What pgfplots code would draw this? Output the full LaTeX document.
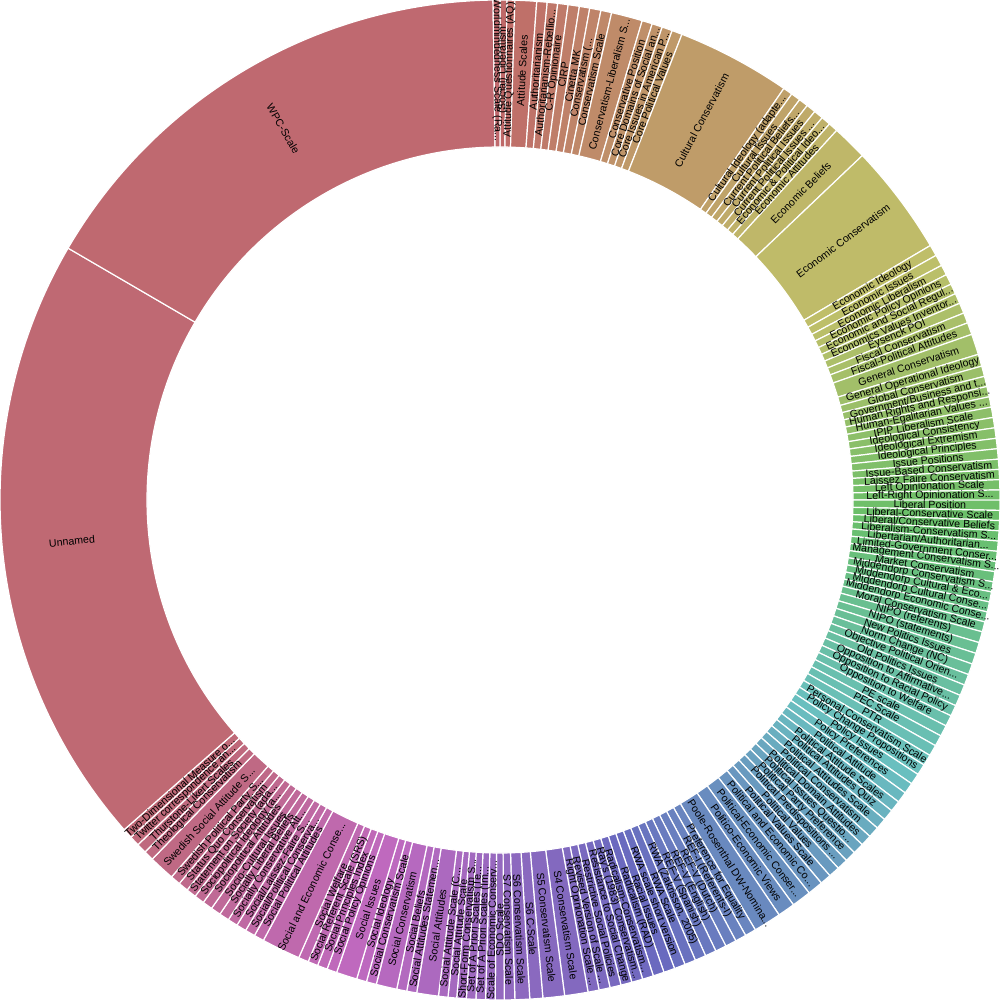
\documentclass[border=0pt]{standalone}
\usepackage{fontspec}
\setmainfont{Liberation Sans}
\usepackage[rgb]{xcolor}
\usepackage{pgfplots}
\usepackage{pgfplotstable}
\pgfplotsset{compat=1.18}

% slices in clockwise order from 12 o'clock
\pgfplotstableread[col sep=semicolon]{
label;value
(Social) Liberalism;0.8
Attitude Questionnaires (AQ);0.9
Attitude Scales;2.5
Authoritarianism;1.2
Authoritarianism-Rebellio...;1.2
C-R Opinionaire;1.2
CIRP;1.3
Cinetta MK;1.2
Conservatism (...;1.3
Conservatism Scale;1.25
Conservatism-Liberalism S...;3.6
Conservative Position;1.2
Core Domains of Social an...;1.2
Core Issues in American P...;1.2
Core Political Values;1.2
Cultural Conservatism;13.2
Cultural Ideology (adapte...;1.1
Cultural Issues;1.1
Current Political Beliefs...;1.1
Current Political Issues;1.1
Current Political Issues ...;1.1
Economic \& Political Ideo...;1.1
Economic Attitudes;1.1
Economic Beliefs;4.1
Economic Conservatism;12.9
Economic Ideology;1.3
Economic Issues;1.3
Economic Liberalism;1.2
Economic Policy Opinions;1.2
Economic and Social Regul...;1.2
Economics Values Inventor...;1.2
Eysenck POI;1.2
Fiscal Conservatism;1.2
Fiscal-Political Attitudes;1.4
General Conservatism;2.4
General Operational Ideology;1.4
Global Conservatism;1.2
Government/Business and t...;1.2
Human Rights and Responsi...;1.2
Human-Egalitarian Values ...;1.2
IPIP Liberalism Scale;1.2
Ideological Consistency;1.2
Ideological Extremism;1.2
Ideological Principles;1.2
Issue Positions;1.2
Issue-Based Conservatism;1.17
Laissez Faire Conservatism;1.17
Left Opinionation Scale;1.17
Left-Right Opinionation S...;1.17
Liberal Position;1.17
Liberal-Conservative Scale;1.17
Liberal/Conservative Beliefs;1.17
Liberalism-Conservatism S...;1.17
Libertarian/Authoritarian...;1.17
Limited-Government Conser...;1.17
Management Conservatism S...;1.17
Market Conservatism;1.17
Middendorp Conservatism S...;1.17
Middendorp Cultural \& Eco...;1.17
Middendorp Cultural Conse...;1.17
Middendorp Economic Conse...;1.17
Moral Conservatism Scale;1.17
NIPO (referents);1.28
NIPO (statements);1.28
New Politics Issues;1.28
Norm Change (NC);1.28
Objective Political Orien...;1.28
Old Politics Issues;1.28
Opposition to Affirmative...;1.28
Opposition to Racial Policy;1.28
Opposition to Welfare;1.28
PE scale;1.28
PEC Scale;1.28
PTR;1.28
Personal Conservatism Scale;1.28
Policy Change Propositions;1.28
Policy Issues;1.28
Policy Preferences;1.28
Political Attitude;1.28
Political Attitude Scales;1.28
Political Attitudes Quiz;1.28
Political Attitudes Scale;1.28
Political Conservatism;1.28
Political Domain Attitudes;1.28
Political Issues Questio...;1.28
Political Party Preference;1.28
Political Predispositions ...;1.28
Political Values;1.28
Political Values Scale;1.28
Political and Economic Co...;1.8
Political-Economic Conser...;2.25
Politico-Economic Views;2.0
Poole-Rosenthal DW-Nomina...;3.2
Preference for Equality;1.28
REF-I (Referents-I);1.28
REF-V (Dutch);1.28
REF-V (English);1.28
REF-V (Spanish);1.28
RWA (Zakrisson, 2005);1.28
RWA Scale;1.28
RWA scale short version;1.28
Racial Issues;1.28
Radicalism (RAD);1.28
Radicalism-Conservatism...;1.28
Ray's (1983) Conservatism...;1.28
Resistance to Social Change;1.28
Restrictive Social Policies;1.28
Revised Version of Scale ...;1.28
Right Opinionation Scale ...;1.28
S4 Conservatism Scale;2.7
S5 Conservatism Scale;2.5
S6 C-Scale;1.5
S6 Conservatism Scale;1.7
S7 Conservatism Scale;1.2
SDO Scale;1.05
Scale of Economic Conserv...;1.1
Set of A Priori Scales (Im...;1.1
Set of A Priori Scales (Te...;1.1
Short-Form Conservatism S...;1.1
Social Attitude Scale;1.0
Social Attitude Scale (C...;1.1
Social Attitudes;2.5
Social Attitudes Statemen...;1.16
Social Beliefs;1.16
Social Conservatism;2.4
Social Conservatism Scale;1.16
Social Ideology;1.16
Social Issues;2.4
Social Policy Opinions;1.16
Social Principles Index;1.16
Social Referent Scale (SRS);1.16
Social Welfare;1.16
Social and Economic Conse...;4.5
Social Political Attitudes;1.16
Social/Political Conserva...;1.16
Social/Laissez-Faire S...;1.16
Socially Conservative Att...;1.16
Socially Liberal Beliefs;1.16
Socio-Cultural Issues;1.16
Sociopolitical Attitudes;1.16
Sociopolitical Ideology (a...;1.16
Statement on Society (ada...;1.16
Status Quo Conservatism;1.16
Swedish Political Party S...;1.16
Swedish Social Attitude S...;3.0
Theological Conservatism;1.16
Thurstone-Likert Scales;1.16
Twitter correspondence an...;1.16
Two-Dimensional Measure o...;1.16
Unnamed;71.2
WPC-Scale;58.7
Worldmindedness Scale (Ra...;0.8
}\slices

\pgfplotstablecreatecol[create col/expr accum={\pgfmathaccuma+\thisrow{value}}{0}]{cum}\slices
\pgfplotstablegetrowsof{\slices}
\pgfmathtruncatemacro{\nrows}{\pgfplotsretval}
\pgfmathtruncatemacro{\lastrow}{\nrows-1}
\pgfplotstablegetelem{\lastrow}{cum}\of\slices
\pgfmathsetmacro{\total}{\pgfplotsretval}

\newbox\labbox
\def\rin{0.706}
\def\rlab{0.86}
\def\fs{5.3}

\begin{document}
\begin{tikzpicture}
\begin{axis}[
    hide axis,
    scale only axis,
    width=500pt, height=500pt,
    xmin=-1, xmax=1, ymin=-1, ymax=1,
    clip=false,
]
\pgfplotsextra{
  % slices
  \foreach \i in {0,...,\lastrow}{
    \pgfplotstablegetelem{\i}{cum}\of\slices \let\cum\pgfplotsretval
    \pgfplotstablegetelem{\i}{value}\of\slices \let\val\pgfplotsretval
    \pgfmathsetmacro{\aend}{90-360*(\cum/\total)}
    \pgfmathsetmacro{\astart}{90-360*((\cum-\val)/\total)}
    \pgfmathsetmacro{\hue}{360*(\i/\nrows)}
    \definecolor{slc}{Hsb}{\hue,0.45,0.75}
    \filldraw[fill=slc, draw=white, line width=0.6pt]
      (axis cs:{cos(\astart)},{sin(\astart)})
      arc[start angle=\astart, end angle=\aend, radius=250pt]
      -- (axis cs:{\rin*cos(\aend)},{\rin*sin(\aend)})
      arc[start angle=\aend, end angle=\astart, radius=176.5pt]
      -- cycle;
  }
  % labels
  \foreach \i in {0,...,\lastrow}{
    \pgfplotstablegetelem{\i}{cum}\of\slices \let\cum\pgfplotsretval
    \pgfplotstablegetelem{\i}{value}\of\slices \let\val\pgfplotsretval
    \pgfplotstablegetelem{\i}{label}\of\slices \let\lab\pgfplotsretval
    \pgfmathsetmacro{\amid}{90-360*((\cum-0.5*\val)/\total)}
    \pgfmathsetmacro{\rot}{\amid>=-90 ? \amid : \amid+180}
    \setbox\labbox=\hbox{\normalfont\fontsize{\fs pt}{\fs pt}\selectfont\lab}
    \pgfmathsetmacro{\sc}{min(1,68/max(1,\wd\labbox))}
    \node[rotate=\rot, scale=\sc, inner sep=0pt, text=black]
      at (axis cs:{\rlab*cos(\amid)},{\rlab*sin(\amid)})
      {\fontsize{\fs pt}{\fs pt}\selectfont\lab};
  }
}
\end{axis}
\pgfresetboundingbox
\useasboundingbox (current axis.south west) rectangle (current axis.north east);
\end{tikzpicture}
\end{document}
